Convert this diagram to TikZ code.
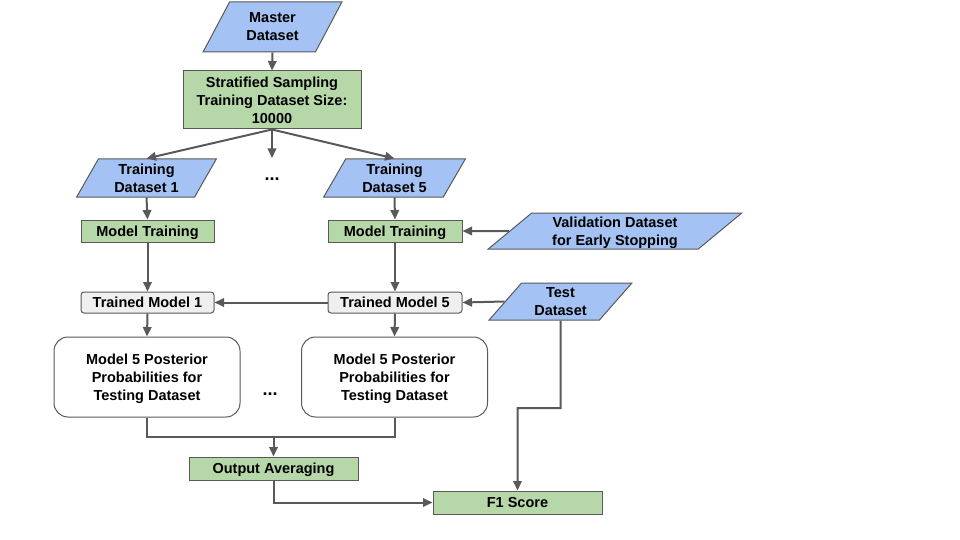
\documentclass[tikz,border=0pt]{standalone}
\usepackage{fontspec}
\setmainfont{Liberation Sans}
\usepackage{xcolor}
\usetikzlibrary{arrows.meta,positioning,shapes.geometric}
\definecolor{dsblue}{HTML}{A4C2F4}
\definecolor{stepgreen}{HTML}{B6D7A8}
\definecolor{modelgray}{HTML}{EFEFEF}
\definecolor{linegray}{HTML}{595959}
\tikzset{
  flowfont/.style={font=\fontsize{14.5}{18}\selectfont\bfseries,text depth=0pt},
  dataset/.style={shape=trapezium,trapezium stretches=true,draw=linegray,fill=dsblue,line width=1pt,inner sep=0pt,align=center,flowfont},
  procbox/.style={draw=linegray,fill=stepgreen,line width=1pt,inner sep=0pt,align=center,flowfont},
  modelbox/.style={draw=linegray,fill=modelgray,line width=1pt,rounded corners=3pt,inner sep=0pt,align=center,flowfont},
  postbox/.style={draw=linegray,fill=white,line width=1pt,rounded corners=14pt,inner sep=0pt,align=center,flowfont,minimum height=80,minimum width=186},
  dotsmark/.style={font=\fontsize{18}{18}\selectfont\bfseries,inner sep=0pt},
  flowarr/.style={-{Triangle[length=9.5pt,width=8.5pt]},draw=linegray,line width=2pt},
  flowline/.style={draw=linegray,line width=2pt}
}
\begin{document}
\begin{tikzpicture}[x=1pt,y=-1pt]
\useasboundingbox (0,0) rectangle (960,540);
% inputs and sampling
\node[dataset,trapezium left angle=60,trapezium right angle=120,minimum width=139,minimum height=50] (master) at (272.5,27) {Master\\Dataset};
\node[procbox,minimum width=178,minimum height=58] (strat) at (272,100) {Stratified Sampling\\Training Dataset Size:\\10000};
\node[dataset,trapezium left angle=63,trapezium right angle=117,minimum width=141,minimum height=38] (train1) at (146.5,178) {Training\\Dataset 1};
\node[dataset,trapezium left angle=63,trapezium right angle=117,minimum width=143,minimum height=38] (train5) at (394.5,178) {Training\\Dataset 5};
\node[dotsmark] (dotsA) at (272,179) {...};
\coordinate (splitmid) at (272,158);
% training
\node[procbox,minimum width=133,minimum height=22] (mt1) at (147.5,231) {Model Training};
\node[procbox,minimum width=134,minimum height=22] (mt5) at (395,231) {Model Training};
\node[dataset,trapezium left angle=41,trapezium right angle=139,minimum width=254,minimum height=36] (val) at (615,231) {Validation Dataset\\for Early Stopping};
\node[modelbox,minimum width=133,minimum height=21] (tm1) at (147.5,302.5) {Trained Model 1};
\node[modelbox,minimum width=134,minimum height=21] (tm5) at (395,302.5) {Trained Model 5};
\node[dataset,trapezium left angle=52,trapezium right angle=128,minimum width=143,minimum height=37] (test) at (560.5,301.5) {Test\\Dataset};
% evaluation
\node[postbox] (post1) at (147,377) {Model 5 Posterior\\Probabilities for\\Testing Dataset};
\node[postbox] (post5) at (394.5,377) {Model 5 Posterior\\Probabilities for\\Testing Dataset};
\node[dotsmark] (dotsB) at (270,394) {...};
\node[procbox,minimum width=169,minimum height=23] (avg) at (273.5,468.5) {Output Averaging};
\node[procbox,minimum width=169,minimum height=23] (f1) at (517.5,502.5) {F1 Score};
\coordinate (merge) at (273.5,437);
\coordinate (testbend) at (560.5,408);

\draw[flowarr] (master.south) -- (strat.north);
\draw[flowarr] (strat.south) -- (train1.north);
\draw[flowarr] (strat.south) -- (splitmid);
\draw[flowarr] (strat.south) -- (train5.north);
\draw[flowarr] (train1.south) -- (mt1.north);
\draw[flowarr] (train5.south) -- (mt5.north);
\draw[flowarr] (val.west) -- (mt5.east);
\draw[flowarr] (mt1.south) -- (tm1.north);
\draw[flowarr] (mt5.south) -- (tm5.north);
\draw[flowarr] (tm5.west) -- (tm1.east);
\draw[flowarr] (test.west) -- (tm5.east);
\draw[flowarr] (tm1.south) -- (post1.north);
\draw[flowarr] (tm5.south) -- (post5.north);
\draw[flowline] (post1.south) |- (merge) -| (post5.south);
\draw[flowarr] (merge) -- (avg.north);
\draw[flowarr] (avg.south) |- (f1.west);
\draw[flowarr] (test.south) -- (testbend) -| (f1.north);
\end{tikzpicture}
\end{document}
